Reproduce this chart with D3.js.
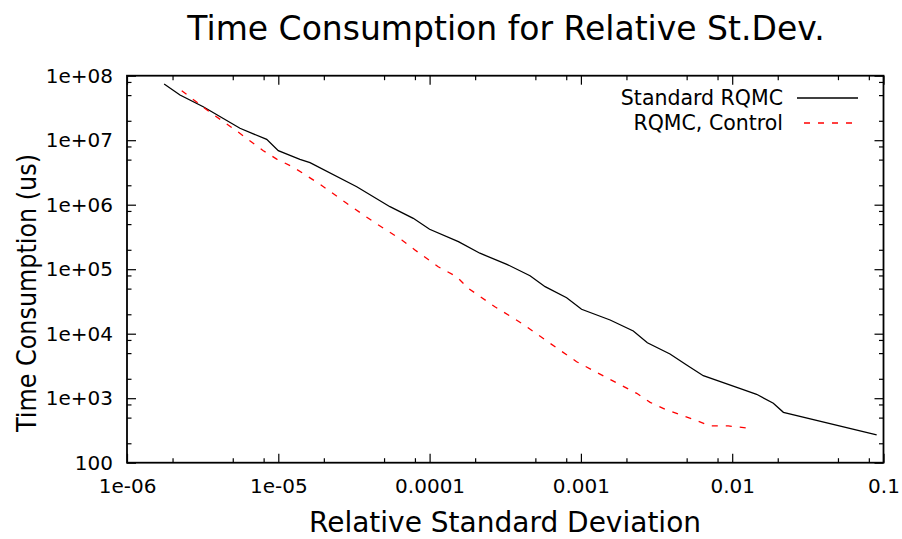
<!DOCTYPE html>
<html>
<head>
<meta charset="utf-8">
<script src="https://cdn.jsdelivr.net/npm/d3@7/dist/d3.min.js"></script>
<style>
  html, body { margin: 0; padding: 0; background: #fff; }
  svg { display: block; }
  text { font-family: "DejaVu Sans", sans-serif; fill: #000; }
</style>
</head>
<body>
<svg id="chart" width="902" height="539"></svg>
<script>
// ---- data ----
const stdX = [1.76e-6, 2.24e-6, 3.19e-6, 5.58e-6, 8.38e-6, 1.0e-5, 1.39e-5, 1.62e-5, 3.3e-5, 5.47e-5, 7.8e-5,
  1.0e-4, 1.55e-4, 2.15e-4, 3.24e-4, 4.61e-4, 5.8e-4, 8.05e-4, 1.01e-3, 1.56e-3, 2.22e-3, 2.75e-3, 3.88e-3,
  5.0e-3, 6.44e-3, 1.12e-2, 1.45e-2, 1.87e-2, 2.18e-2, 9.01e-2];
const stdY = [7.43e7, 5.02e7, 3.3e7, 1.53e7, 1.03e7, 6.87e6, 5.06e6, 4.48e6, 1.9e6, 9.31e5, 6.15e5,
  4.16e5, 2.67e5, 1.77e5, 1.19e5, 7.93e4, 5.36e4, 3.61e4, 2.39e4, 1.63e4, 1.10e4, 7.24e3, 4.84e3,
  3.27e3, 2.23e3, 1.42e3, 1.15e3, 834, 604, 269];
const ctlX = [2.30e-6, 3.54e-6, 5.31e-6, 7.96e-6, 9.76e-6, 1.26e-5, 1.89e-5, 2.83e-5, 4.25e-5, 6.55e-5, 8.0e-5,
  1.14e-4, 1.51e-4, 1.80e-4, 2.70e-4, 4.16e-4, 6.25e-4, 9.37e-4, 1.48e-3, 2.34e-3, 2.87e-3, 3.6e-3,
  5.68e-3, 7.13e-3, 9.42e-3, 1.27e-2];
const ctlY = [5.85e7, 2.71e7, 1.39e7, 6.87e6, 5.1e6, 3.8e6, 2.07e6, 1.05e6, 5.45e5, 2.84e5, 1.99e5,
  1.09e5, 7.66e4, 5.06e4, 2.62e4, 1.40e4, 7.1e3, 3.68e3, 2.08e3, 1.19e3, 863, 673,
  459, 371, 371, 345];
const seriesNames = ["Standard RQMC", "RQMC, Control"];
const xTickValues = [1e-6, 1e-5, 1e-4, 1e-3, 1e-2, 1e-1];
const xTickLabels = ["1e-06", "1e-05", "0.0001", "0.001", "0.01", "0.1"];
const yTickValues = [1e2, 1e3, 1e4, 1e5, 1e6, 1e7, 1e8];
const yTickLabels = ["100", "1e+03", "1e+04", "1e+05", "1e+06", "1e+07", "1e+08"];
const minorMultipliers = [2, 5, 8];
const titleText = "Time Consumption for Relative St.Dev.";
const xLabelText = "Relative Standard Deviation";
const yLabelText = "Time Consumption (us)";

// ---- layout ----
const W = 902, H = 539;
const m = { left: 127, right: W - 883.5, top: 75.7, bottom: H - 462.7 };
const iw = W - m.left - m.right, ih = H - m.top - m.bottom;

const svg = d3.select("#chart");
const g = svg.append("g").attr("transform", `translate(${m.left},${m.top})`);

const x = d3.scaleLog().domain([1e-6, 1e-1]).range([0, iw]);
const y = d3.scaleLog().domain([1e2, 1e8]).range([ih, 0]);

function minors(vals) {
  const out = [];
  for (let i = 0; i < vals.length - 1; i++) minorMultipliers.forEach(k => out.push(vals[i] * k));
  return out;
}
const xMinor = minors(xTickValues), yMinor = minors(yTickValues);
const MAJ = 9, MIN = 4.5;

function styleAxis(sel) {
  sel.select(".domain").remove();
  sel.selectAll(".tick line").attr("stroke", "#000").attr("stroke-width", 1.2);
  sel.selectAll("text").style("font-family", '"DejaVu Sans", sans-serif').style("font-size", "20px").attr("fill", "#000");
}

// bottom
g.append("g").attr("transform", `translate(0,${ih})`)
  .call(d3.axisBottom(x).tickValues(xTickValues).tickSize(-MAJ).tickPadding(16)
    .tickFormat((d, i) => xTickLabels[i])).call(styleAxis);
g.append("g").attr("transform", `translate(0,${ih})`)
  .call(d3.axisBottom(x).tickValues(xMinor).tickSize(-MIN).tickFormat("")).call(styleAxis);
// top
g.append("g").call(d3.axisTop(x).tickValues(xTickValues).tickSize(-MAJ).tickFormat("")).call(styleAxis);
g.append("g").call(d3.axisTop(x).tickValues(xMinor).tickSize(-MIN).tickFormat("")).call(styleAxis);
// left
g.append("g")
  .call(d3.axisLeft(y).tickValues(yTickValues).tickSize(-MAJ).tickPadding(14)
    .tickFormat((d, i) => yTickLabels[i])).call(styleAxis);
g.append("g").call(d3.axisLeft(y).tickValues(yMinor).tickSize(-MIN).tickFormat("")).call(styleAxis);
// right
g.append("g").attr("transform", `translate(${iw},0)`)
  .call(d3.axisRight(y).tickValues(yTickValues).tickSize(-MAJ).tickFormat("")).call(styleAxis);
g.append("g").attr("transform", `translate(${iw},0)`)
  .call(d3.axisRight(y).tickValues(yMinor).tickSize(-MIN).tickFormat("")).call(styleAxis);

// border
g.append("rect").attr("x", 0).attr("y", 0).attr("width", iw).attr("height", ih)
  .attr("fill", "none").attr("stroke", "#000").attr("stroke-width", 1.8);

// lines
const line = d3.line().x(d => x(d[0])).y(d => y(d[1]));
const stdData = stdX.map((v, i) => [v, stdY[i]]);
const ctlData = ctlX.map((v, i) => [v, ctlY[i]]);
g.append("path").datum(stdData).attr("d", line)
  .attr("fill", "none").attr("stroke", "#000").attr("stroke-width", 1.3);
g.append("path").datum(ctlData).attr("d", line)
  .attr("fill", "none").attr("stroke", "#ff0000").attr("stroke-width", 1.3).attr("stroke-dasharray", "6,8");

// legend
const leg = svg.append("g");
const legRows = [
  { name: seriesNames[0], color: "#000", dash: null, y: 98, x1: 797, x2: 858 },
  { name: seriesNames[1], color: "#ff0000", dash: "6,8", y: 123, x1: 804, x2: 854 }
];
legRows.forEach(r => {
  leg.append("text").attr("x", 783).attr("y", r.y).attr("dy", "0.35em")
    .attr("text-anchor", "end").style("font-size", "20.5px").text(r.name);
  leg.append("line").attr("x1", r.x1).attr("x2", r.x2).attr("y1", r.y).attr("y2", r.y)
    .attr("stroke", r.color).attr("stroke-width", 1.3)
    .attr("stroke-dasharray", r.dash);
});

// titles
svg.append("text").attr("x", 506).attr("y", 40).attr("text-anchor", "middle")
  .style("font-size", "33px").text(titleText);
svg.append("text").attr("x", 505).attr("y", 532).attr("text-anchor", "middle")
  .style("font-size", "28px").text(xLabelText);
svg.append("text").attr("transform", "translate(36,293) rotate(-90)").attr("text-anchor", "middle")
  .attr("textLength", 278).attr("lengthAdjust", "spacingAndGlyphs")
  .style("font-size", "27px").text(yLabelText);
</script>
</body>
</html>
